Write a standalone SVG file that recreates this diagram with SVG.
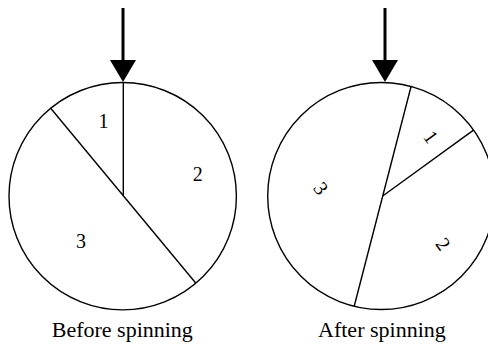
<svg xmlns="http://www.w3.org/2000/svg" width="488" height="344" viewBox="0 0 488 344">
  <style>
    .rim { fill: #ffffff; stroke: #000000; stroke-width: 1.4; }
    .cut { fill: none; stroke: #000000; stroke-width: 1.4; stroke-linecap: butt; }
    .num { font-family: "Liberation Serif", "Times New Roman", serif; font-size: 20px; fill: #000000; text-anchor: middle; }
    .cap { font-family: "Liberation Serif", "Times New Roman", serif; font-size: 22px; fill: #000000; text-anchor: middle; }
    .shaft { fill: none; stroke: #000000; stroke-width: 3; }
  </style>
  <defs>
    <marker id="head" markerUnits="userSpaceOnUse" markerWidth="22" markerHeight="26" viewBox="0 -13 22 26" refX="0" refY="0" orient="auto">
      <path d="M0,-13 L22,0 L0,13 Z" fill="#000000"/>
    </marker>
  </defs>

  <g id="before">
    <circle class="rim" cx="122.7" cy="196.2" r="113.7"/>
    <line class="cut" x1="123.3" y1="195.2" x2="123.3" y2="82.5"/>
    <line class="cut" x1="50.7" y1="108.3" x2="195.7" y2="283"/>
    <g transform="translate(123.3,195.2)">
      <text class="num" x="-19.8" y="-66.9">1</text>
      <text class="num" x="74.4" y="-14.2">2</text>
      <text class="num" x="-42.3" y="52.5">3</text>
    </g>
    <text class="cap" x="122.3" y="336.5">Before spinning</text>
  </g>

  <g id="after">
    <circle class="rim" cx="381.2" cy="196" r="113.5"/>
    <line class="cut" x1="411" y1="86.8" x2="354.2" y2="306.3"/>
    <line class="cut" x1="382.7" y1="196" x2="473.5" y2="130.1"/>
    <g transform="translate(382.7,196) rotate(54.3)">
      <text class="num" x="-19.8" y="-66.9">1</text>
      <text class="num" x="74.4" y="-14.2">2</text>
      <text class="num" x="-42.3" y="52.5">3</text>
    </g>
    <text class="cap" x="381.9" y="336.5">After spinning</text>
  </g>

  <g id="connectors">
    <line class="shaft" x1="123" y1="8" x2="123" y2="60" marker-end="url(#head)"/>
    <line class="shaft" x1="385" y1="8" x2="385" y2="60" marker-end="url(#head)"/>
  </g>
</svg>
